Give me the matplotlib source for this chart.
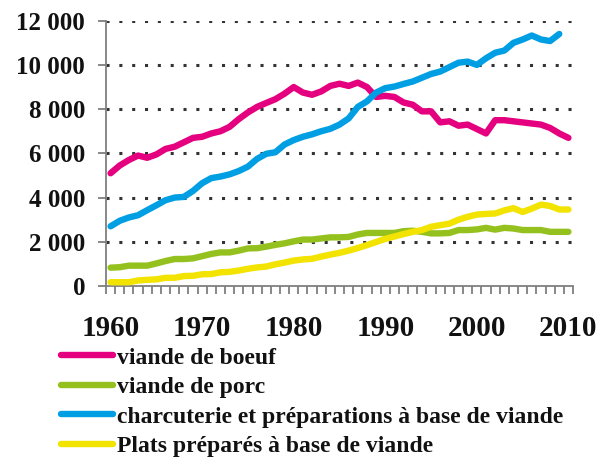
import numpy as np
import matplotlib
matplotlib.use("Agg")
import matplotlib.pyplot as plt
from matplotlib.ticker import FuncFormatter, FixedLocator

years = list(range(1960, 2011))

boeuf = [5100, 5450, 5700, 5900, 5800, 5950, 6200, 6300, 6500, 6700,
         6750, 6900, 7000, 7200, 7550, 7850, 8100, 8280, 8450, 8700,
         9000, 8750, 8650, 8800, 9050, 9150, 9050, 9200, 9000, 8550,
         8600, 8550, 8300, 8200, 7900, 7900, 7400, 7450, 7250, 7300,
         7100, 6900, 7500, 7500, 7450, 7400, 7350, 7300, 7150, 6900,
         6700]

porc = [830, 850, 920, 920, 920, 1020, 1130, 1220, 1220, 1250,
        1350, 1450, 1520, 1520, 1600, 1700, 1710, 1780, 1860, 1930,
        2020, 2100, 2100, 2150, 2200, 2200, 2220, 2330, 2400, 2400,
        2400, 2400, 2480, 2500, 2450, 2380, 2380, 2400, 2530, 2530,
        2560, 2630, 2550, 2630, 2600, 2530, 2530, 2530, 2450, 2450,
        2450]

charcuterie = [2700, 2950, 3100, 3200, 3430, 3650, 3880, 4000, 4030, 4300,
               4650, 4880, 4950, 5050, 5200, 5400, 5750, 5980, 6050, 6400,
               6600, 6750, 6860, 7000, 7110, 7300, 7580, 8100, 8350, 8750,
               8950, 9020, 9140, 9250, 9420, 9590, 9700, 9900, 10100, 10150,
               10000, 10300, 10550, 10650, 11000, 11150, 11330, 11150, 11080, 11400,
               np.nan]

plats = [170, 170, 170, 250, 280, 300, 370, 370, 450, 460,
         530, 540, 620, 640, 700, 780, 840, 880, 980, 1060,
         1150, 1200, 1230, 1330, 1420, 1500, 1600, 1720, 1850, 1990,
         2130, 2240, 2350, 2450, 2530, 2680, 2750, 2820, 3000, 3130,
         3230, 3260, 3280, 3420, 3520, 3350, 3500, 3680, 3620, 3460,
         3460]

series_names = ["viande de boeuf", "viande de porc",
                "charcuterie et préparations à base de viande",
                "Plats préparés à base de viande"]
series_values = [boeuf, porc, charcuterie, plats]
colors = ["#E4007F", "#95C11F", "#009FE3", "#F2E300"]
year_labels = [1960, 1970, 1980, 1990, 2000, 2010]
y_ticks = [0, 2000, 4000, 6000, 8000, 10000, 12000]

font = ["Liberation Serif", "DejaVu Serif"]
plt.rcParams["font.family"] = font
plt.rcParams["font.weight"] = "bold"

fig = plt.figure(figsize=(5.97, 4.58), dpi=100)
ax = fig.add_axes([106/597, 1-286/458, 467/597, 265.3/458])

x = np.arange(len(years))
handles = []
for vals, c, name in zip(series_values, colors, series_names):
    ln, = ax.plot(x, vals, color=c, lw=4.6, solid_capstyle="round",
                  solid_joinstyle="round", label=name, zorder=3)
    handles.append(ln)

ax.set_xlim(-0.5, len(years) - 0.5)
ax.set_ylim(0, 12000)

for yv in y_ticks[1:]:
    ax.axhline(yv, color="#333333", lw=2.2, linestyle=(0, (1, 3.2)),
               dash_capstyle="butt", zorder=1)

ax.set_yticks(y_ticks)
ax.yaxis.set_major_formatter(FuncFormatter(lambda v, p: f"{int(v):,}".replace(",", " ")))
ax.tick_params(axis="y", length=6, width=1.3, color="#7f7f7f", labelsize=18, pad=9)

label_pos = [years.index(y) for y in year_labels]
ax.set_xticks(label_pos)
ax.set_xticklabels([str(y) for y in year_labels])
ax.tick_params(axis="x", which="major", length=0, labelsize=21, pad=21)
ax.xaxis.set_minor_locator(FixedLocator(np.arange(-0.5, len(years), 1.0)))
ax.tick_params(axis="x", which="minor", length=6, width=1.3, color="#7f7f7f")

for s in ["top", "right"]:
    ax.spines[s].set_visible(False)
for s in ["left", "bottom"]:
    ax.spines[s].set_color("#7f7f7f")
    ax.spines[s].set_linewidth(1.3)

for lab in ax.get_xticklabels() + ax.get_yticklabels():
    lab.set_fontweight("bold")
    lab.set_color("#111111")

leg = fig.legend(handles=handles, labels=series_names, loc="upper left",
                 bbox_to_anchor=(61/597, 1-347/458), frameon=False,
                 prop={"family": font, "weight": "bold", "size": 17},
                 handlelength=2.2, handletextpad=0.17, labelspacing=0.34,
                 borderpad=0, borderaxespad=0)
for t in leg.get_texts():
    t.set_color("#111111")

fig.savefig("out.png", dpi=100)
